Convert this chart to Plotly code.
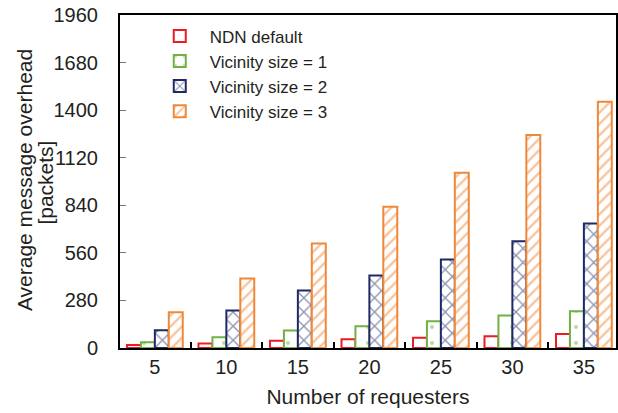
import plotly.graph_objects as go

categories = ["5", "10", "15", "20", "25", "30", "35"]
ndn_default = [18, 26, 42, 52, 60, 69, 83]
vicinity_1 = [34, 64, 103, 128, 158, 191, 217]
vicinity_2 = [105, 220, 338, 427, 521, 628, 733]
vicinity_3 = [211, 409, 615, 831, 1031, 1254, 1449]
y_ticks = [0, 280, 560, 840, 1120, 1400, 1680, 1960]

series = [
    ("NDN default", ndn_default, "#ec1c24", ""),
    ("Vicinity size = 1", vicinity_1, "#72b043", "."),
    ("Vicinity size = 2", vicinity_2, "#1e2a66", "x"),
    ("Vicinity size = 3", vicinity_3, "#f0883a", "/"),
]

FONT = "Liberation Sans, Arial, sans-serif"
fig = go.Figure()
for name, vals, col, shape in series:
    pattern = dict(shape=shape, fgcolor=col, bgcolor="white", fillmode="overlay")
    if shape == ".":
        pattern.update(size=16, solidity=0.05)
    elif shape == "x":
        pattern.update(size=10, solidity=0.25)
    elif shape == "/":
        pattern.update(size=8, solidity=0.3)
    fig.add_trace(go.Bar(
        x=categories, y=vals, name=name,
        marker=dict(color="white", line=dict(color=col, width=2), pattern=pattern),
    ))

fig.update_layout(
    width=618, height=413,
    margin=dict(l=120, r=0, t=15, b=65),
    paper_bgcolor="white", plot_bgcolor="white",
    font=dict(family=FONT, size=20, color="#231f20"),
    barmode="group", bargap=0.22, bargroupgap=0,
    showlegend=True,
    legend=dict(x=0.06, y=0.99, xanchor="left", yanchor="top",
                bgcolor="rgba(0,0,0,0)", itemwidth=50,
                font=dict(size=17, family=FONT), tracegroupgap=0),
    xaxis=dict(
        type="category", range=[-0.4875, 6.449],
        showline=True, linecolor="black", linewidth=2, mirror=True,
        ticks="inside", ticklen=6, tickwidth=2, tickcolor="black",
        tickson="boundaries",
        title=dict(text="Number of requesters", font=dict(size=21), standoff=12),
        tickfont=dict(size=20),
    ),
    yaxis=dict(
        range=[0, 1960], tickvals=y_ticks, ticktext=[str(v) for v in y_ticks],
        showline=True, linecolor="black", linewidth=2, mirror=True,
        ticks="inside", ticklen=6, tickwidth=1, tickcolor="#777777",
        showgrid=False, zeroline=False,
        ticklabelstandoff=16,
        tickfont=dict(size=20),
    ),
    annotations=[
        dict(text="Average message overhead", xref="paper", yref="paper",
             x=-0.191, y=0.505, xanchor="center", yanchor="middle",
             textangle=-90, showarrow=False, font=dict(size=21)),
        dict(text="[packets]", xref="paper", yref="paper",
             x=-0.151, y=0.497, xanchor="center", yanchor="middle",
             textangle=-90, showarrow=False, font=dict(size=21)),
    ],
)

fig.write_html("out.html", config={"displayModeBar": False},
               post_script="document.body.style.margin='0';document.body.style.padding='0';")
